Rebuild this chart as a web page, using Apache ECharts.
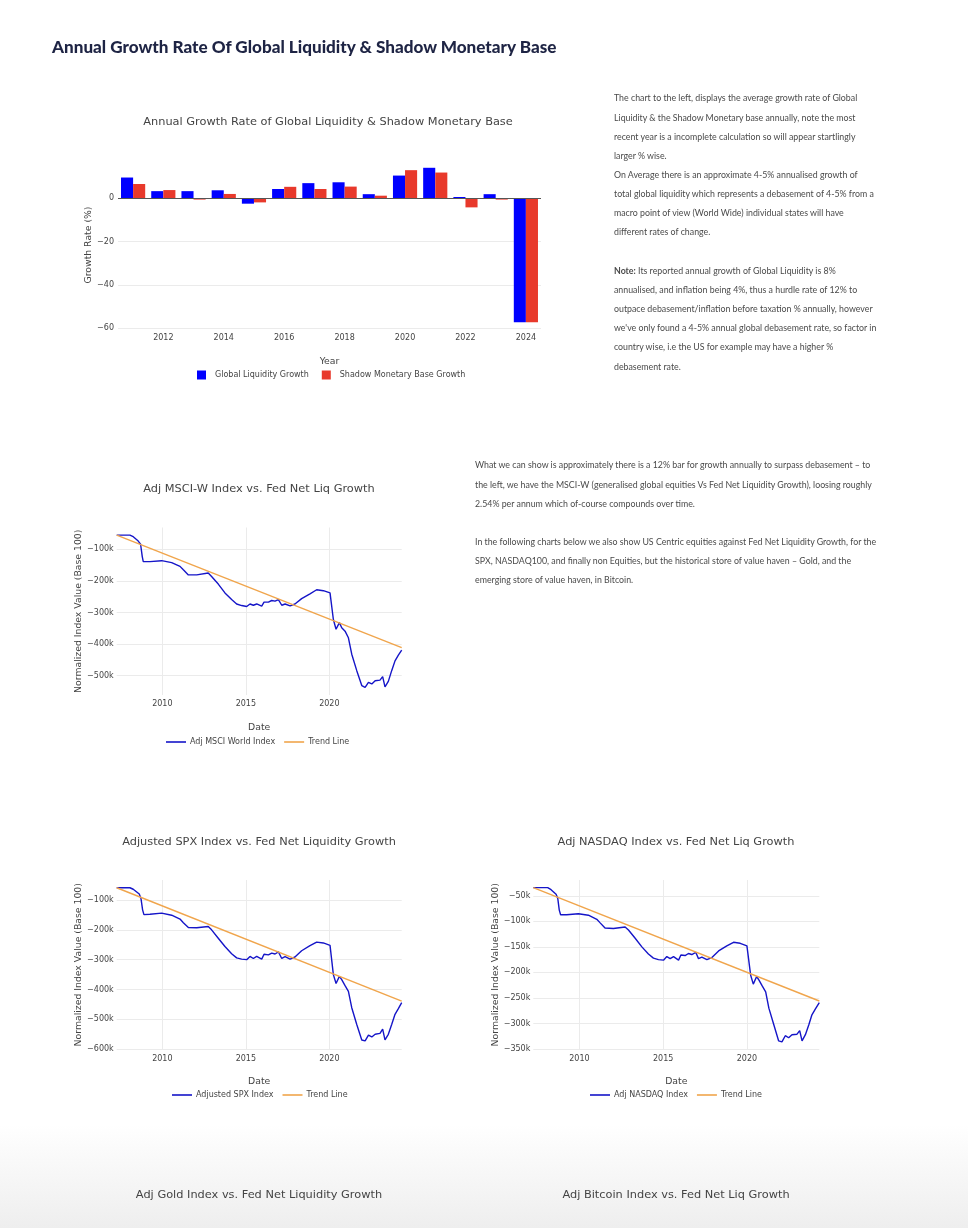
<!DOCTYPE html>
<html>
<head>
<meta charset="utf-8">
<script src="https://cdn.jsdelivr.net/npm/echarts@6/dist/echarts.min.js"></script>
<style>
  html, body { margin: 0; padding: 0; }
  body {
    width: 968px; height: 1228px; position: relative; overflow: hidden;
    background: linear-gradient(to bottom, #ffffff 0px, #ffffff 1125px, #eeeeee 1228px);
  }
  #chart { position: absolute; left: 0; top: 0; width: 968px; height: 1228px; z-index: 0; }
  .txt { position: absolute; z-index: 1; font-family: Lato, "Noto Sans", sans-serif; color: #4a4a4a; white-space: nowrap; }
  #heading { left: 52px; top: 36px; font-size: 17.1px; font-weight: 900; color: #1e2444; font-family: Lato, "Noto Sans", sans-serif; }
  .para { font-size: 8.8px; line-height: 19.15px; }
  #p1 { left: 614px; top: 88.4px; }
  #p2 { left: 475px; top: 455.4px; }
</style>
</head>
<body>
<div id="chart"></div>
<div id="heading" class="txt">Annual Growth Rate Of Global Liquidity &amp; Shadow Monetary Base</div>
<div id="p1" class="txt para">The chart to the left, displays the average growth rate of Global<br>Liquidity &amp; the Shadow Monetary base annually, note the most<br>recent year is a incomplete calculation so will appear startlingly<br>larger % wise.<br>On Average there is an approximate 4-5% annualised growth of<br>total global liquidity which represents a debasement of 4-5% from a<br>macro point of view (World Wide) individual states will have<br>different rates of change.<br>&nbsp;<br><b>Note:</b> Its reported annual growth of Global Liquidity is 8%<br>annualised, and inflation being 4%, thus a hurdle rate of 12% to<br>outpace debasement/inflation before taxation % annually, however<br>we've only found a 4-5% annual global debasement rate, so factor in<br>country wise, i.e the US for example may have a higher %<br>debasement rate.</div>
<div id="p2" class="txt para">What we can show is approximately there is a 12% bar for growth annually to surpass debasement – to<br>the left, we have the MSCI-W (generalised global equities Vs Fed Net Liquidity Growth), loosing roughly<br>2.54% per annum which of-course compounds over time.<br>&nbsp;<br>In the following charts below we also show US Centric equities against Fed Net Liquidity Growth, for the<br>SPX, NASDAQ100, and finally non Equities, but the historical store of value haven – Gold, and the<br>emerging store of value haven, in Bitcoin.</div>
<script>
// ---------- DATA ----------
const years = ['2011','2012','2013','2014','2015','2016','2017','2018','2019','2020','2021','2022','2023','2024'];
const globalLiquidityGrowth = [9.6, 3.3, 3.3, 3.7, -2.5, 4.3, 7.0, 7.4, 1.9, 10.5, 14.1, 0.6, 1.9, -57.3];
const shadowMonetaryBaseGrowth = [6.6, 3.8, -0.6, 2.0, -1.9, 5.3, 4.3, 5.4, 1.2, 13.0, 11.9, -4.2, -0.6, -57.3];

// Adj MSCI World Index (thousands), dates as decimal years
const msciDates = [2007.27, 2008.06, 2008.26, 2008.56, 2008.70, 2008.80, 2008.86, 2009.26, 2009.96, 2010.56, 2011.06, 2011.26, 2011.56, 2012.06, 2012.75, 2012.95, 2013.35, 2013.75, 2014.15, 2014.45, 2014.75, 2015.05, 2015.25, 2015.45, 2015.65, 2015.95, 2016.09, 2016.35, 2016.55, 2016.75, 2016.95, 2017.15, 2017.35, 2017.65, 2017.94, 2018.34, 2018.84, 2019.24, 2019.64, 2020.04, 2020.14, 2020.24, 2020.40, 2020.60, 2020.74, 2020.94, 2021.14, 2021.34, 2021.64, 2021.94, 2022.14, 2022.34, 2022.54, 2022.74, 2023.03, 2023.19, 2023.33, 2023.53, 2023.73, 2023.93, 2024.13, 2024.33];
const msciValues = [-55, -55, -60, -74, -84, -123, -139, -139, -136, -142, -154, -165, -181, -181, -175, -186, -210, -238, -259, -273, -278, -281, -273, -277, -273, -280, -267, -267, -262, -264, -259, -277, -273, -279, -273, -256, -241, -228, -231, -238, -243, -322, -353, -332, -348, -359, -380, -432, -484, -531, -537, -521, -526, -516, -514, -503, -535, -518, -484, -453, -435, -419];
const msciTrendDates = [2007.27, 2024.33];
const msciTrendValues = [-55, -411];

// Adjusted SPX Index (thousands)
const spxDates = [2007.27, 2008.06, 2008.26, 2008.62, 2008.72, 2008.82, 2008.90, 2009.26, 2009.96, 2010.56, 2011.06, 2011.26, 2011.56, 2012.06, 2012.75, 2012.95, 2013.35, 2013.75, 2014.15, 2014.45, 2014.75, 2015.05, 2015.25, 2015.45, 2015.65, 2015.95, 2016.09, 2016.35, 2016.55, 2016.75, 2016.95, 2017.15, 2017.35, 2017.65, 2017.94, 2018.34, 2018.84, 2019.24, 2019.64, 2020.04, 2020.14, 2020.24, 2020.40, 2020.60, 2020.74, 2020.94, 2021.14, 2021.34, 2021.64, 2021.94, 2022.14, 2022.34, 2022.54, 2022.74, 2023.03, 2023.19, 2023.33, 2023.53, 2023.73, 2023.93, 2024.13, 2024.33];
const spxValues = [-59, -59, -64, -80, -94, -133, -149, -148, -144, -151, -164, -176, -192, -193, -189, -200, -228, -256, -280, -294, -298, -300, -289, -296, -289, -298, -282, -284, -278, -281, -274, -296, -290, -298, -291, -270, -253, -241, -244, -252, -258, -350, -380, -356, -367, -387, -406, -461, -517, -569, -572, -553, -559, -550, -547, -533, -569, -550, -517, -483, -464, -444];
const spxTrendDates = [2007.27, 2024.33];
const spxTrendValues = [-59, -439];

// Adj NASDAQ Index (thousands)
const nasdaqDates = [2007.25, 2008.11, 2008.31, 2008.61, 2008.71, 2008.80, 2008.88, 2009.24, 2009.94, 2010.54, 2011.04, 2011.24, 2011.53, 2012.03, 2012.73, 2012.93, 2013.33, 2013.73, 2014.12, 2014.42, 2014.72, 2015.02, 2015.22, 2015.42, 2015.62, 2015.92, 2016.06, 2016.31, 2016.51, 2016.71, 2016.95, 2017.11, 2017.31, 2017.61, 2017.91, 2018.31, 2018.80, 2019.20, 2019.60, 2020.00, 2020.10, 2020.22, 2020.38, 2020.58, 2020.72, 2020.92, 2021.12, 2021.31, 2021.61, 2021.89, 2022.09, 2022.29, 2022.49, 2022.69, 2022.99, 2023.15, 2023.29, 2023.49, 2023.69, 2023.88, 2024.08, 2024.32];
const nasdaqValues = [-34, -34, -38, -47, -55, -78, -87, -87, -85, -88, -96, -103, -113, -114, -111, -117, -133, -150, -164, -172, -175, -176, -169, -173, -169, -176, -166, -167, -163, -165, -161, -173, -170, -175, -171, -158, -148, -141, -143, -148, -151, -205, -223, -208, -215, -227, -238, -270, -303, -334, -336, -324, -328, -322, -321, -314, -334, -322, -303, -283, -272, -259];
const nasdaqTrendDates = [2007.25, 2024.32];
const nasdaqTrendValues = [-34, -256];

// ---------- CHART ----------
const FONT = '"DejaVu Sans", Verdana, sans-serif';
const TXT = '#444';
const GRIDC = '#ebebeb';
const BLUE_LINE = '#1515c8';
const TREND = '#f0a54c';
const zip = (a, b) => a.map((v, i) => [v, b[i]]);
const minus = v => (v < 0 ? '\u2212' + Math.abs(v) : String(v));

function lineXAxis(gridIndex) {
  return {
    gridIndex, type: 'value', min: 'dataMin', max: 'dataMax', splitNumber: 3,
    name: 'Date', nameLocation: 'middle', nameGap: 28,
    nameTextStyle: { fontFamily: FONT, fontSize: 9.3, color: TXT },
    axisLine: { show: false }, axisTick: { show: false },
    axisLabel: { fontFamily: FONT, fontSize: 8, color: TXT, margin: 5, showMinLabel: false, showMaxLabel: false, formatter: v => String(Math.round(v)) },
    splitLine: { show: true, showMinLine: false, showMaxLine: false, lineStyle: { color: GRIDC, width: 1 } }
  };
}
function lineYAxis(gridIndex, min, max, gap) {
  return {
    gridIndex, type: 'value', min, max, splitNumber: 5,
    name: 'Normalized Index Value (Base 100)', nameLocation: 'middle', nameGap: gap, nameRotate: 90,
    nameTextStyle: { fontFamily: FONT, fontSize: 9.3, color: TXT },
    axisLine: { show: false }, axisTick: { show: false },
    axisLabel: { fontFamily: FONT, fontSize: 8, color: TXT, margin: 3, showMinLabel: false, showMaxLabel: false, formatter: v => minus(v) + 'k' },
    splitLine: { show: true, showMinLine: false, showMaxLine: false, lineStyle: { color: GRIDC, width: 1 } }
  };
}
function lineSeries(name, idx, data, color) {
  return {
    name, type: 'line', xAxisIndex: idx, yAxisIndex: idx, data,
    symbol: 'none', showSymbol: false, smooth: false,
    lineStyle: { color, width: 1.4 }, itemStyle: { color }, silent: true
  };
}
function legendAt(left, top, names) {
  return {
    left, top, orient: 'horizontal', icon: 'rect', itemWidth: 20, itemHeight: 1.6, itemGap: 9, padding: 0,
    selectedMode: false, data: names,
    textStyle: { fontFamily: FONT, fontSize: 8, color: TXT, padding: [0, 0, 0, -1] }
  };
}
function titleText(x, y, text) {
  return { type: 'text', x, y, silent: true,
    style: { text, fill: '#444', fontSize: 11.35, fontFamily: FONT, align: 'center', verticalAlign: 'middle' } };
}

const chart = echarts.init(document.getElementById('chart'), null, { renderer: 'canvas' });
chart.setOption({
  backgroundColor: 'transparent',
  animation: false,
  textStyle: { fontFamily: FONT },
  grid: [
    { left: 118, top: 160, width: 423, height: 170, outerBoundsMode: 'none' },
    { left: 116.7, top: 527.5, width: 285, height: 167.5, outerBoundsMode: 'none' },
    { left: 116.7, top: 880, width: 285, height: 169.5, outerBoundsMode: 'none' },
    { left: 533.3, top: 880, width: 286, height: 169.5, outerBoundsMode: 'none' }
  ],
  xAxis: [
    {
      gridIndex: 0, type: 'category', data: years, boundaryGap: true,
      name: 'Year', nameLocation: 'middle', nameGap: 27,
      nameTextStyle: { fontFamily: FONT, fontSize: 9.3, color: TXT },
      axisLine: { show: false }, axisTick: { show: false },
      axisLabel: { fontFamily: FONT, fontSize: 8, color: TXT, margin: 4,
        interval: (i, v) => Number(v) % 2 === 0 },
      splitLine: { show: false }
    },
    lineXAxis(1), lineXAxis(2), lineXAxis(3)
  ],
  yAxis: [
    {
      gridIndex: 0, type: 'value', min: -60.9, max: 17.7, splitNumber: 4,
      name: 'Growth Rate (%)', nameLocation: 'middle', nameGap: 25, nameRotate: 90,
      nameTextStyle: { fontFamily: FONT, fontSize: 9.3, color: TXT },
      axisLine: { show: false }, axisTick: { show: false },
      axisLabel: { fontFamily: FONT, fontSize: 8, color: TXT, margin: 4, showMinLabel: false, showMaxLabel: false, formatter: v => minus(v) },
      splitLine: { show: true, showMinLine: false, showMaxLine: false, lineStyle: { color: GRIDC, width: 1 } }
    },
    lineYAxis(1, -561, -31, 28.7),
    lineYAxis(2, -601, -33, 29.3),
    lineYAxis(3, -351, -19, 28.6)
  ],
  legend: [
    { left: 197, top: 370.5, orient: 'horizontal', icon: 'rect', itemWidth: 9, itemHeight: 9, itemGap: 13, padding: 0,
      selectedMode: false, data: ['Global Liquidity Growth', 'Shadow Monetary Base Growth'],
      textStyle: { fontFamily: FONT, fontSize: 8, color: TXT, padding: [0, 0, 0, 4] } },
    legendAt(166, 738, ['Adj MSCI World Index', 'Trend Line']),
    legendAt(172, 1091, ['Adjusted SPX Index', 'Trend Line']),
    legendAt(590, 1091, ['Adj NASDAQ Index', 'Trend Line'])
  ],
  graphic: [
    titleText(328, 122, 'Annual Growth Rate of Global Liquidity & Shadow Monetary Base'),
    titleText(259, 489, 'Adj MSCI-W Index vs. Fed Net Liq Growth'),
    titleText(259, 842, 'Adjusted SPX Index vs. Fed Net Liquidity Growth'),
    titleText(676, 842, 'Adj NASDAQ Index vs. Fed Net Liq Growth'),
    titleText(259, 1195, 'Adj Gold Index vs. Fed Net Liquidity Growth'),
    titleText(676, 1195, 'Adj Bitcoin Index vs. Fed Net Liq Growth')
  ],
  series: [
    {
      name: 'Global Liquidity Growth', type: 'bar', xAxisIndex: 0, yAxisIndex: 0,
      data: globalLiquidityGrowth, barCategoryGap: '20%', barGap: '0%',
      itemStyle: { color: '#0000ff' }, silent: true,
      markLine: { silent: true, symbol: 'none', label: { show: false },
        lineStyle: { color: '#555', width: 1, type: 'solid' }, data: [{ yAxis: 0 }] }
    },
    {
      name: 'Shadow Monetary Base Growth', type: 'bar', xAxisIndex: 0, yAxisIndex: 0,
      data: shadowMonetaryBaseGrowth, barCategoryGap: '20%', barGap: '0%',
      itemStyle: { color: '#e8392b' }, silent: true
    },
    lineSeries('Adj MSCI World Index', 1, zip(msciDates, msciValues), BLUE_LINE),
    lineSeries('Trend Line', 1, zip(msciTrendDates, msciTrendValues), TREND),
    lineSeries('Adjusted SPX Index', 2, zip(spxDates, spxValues), BLUE_LINE),
    lineSeries('Trend Line', 2, zip(spxTrendDates, spxTrendValues), TREND),
    lineSeries('Adj NASDAQ Index', 3, zip(nasdaqDates, nasdaqValues), BLUE_LINE),
    lineSeries('Trend Line', 3, zip(nasdaqTrendDates, nasdaqTrendValues), TREND)
  ]
});
</script>
</body>
</html>
